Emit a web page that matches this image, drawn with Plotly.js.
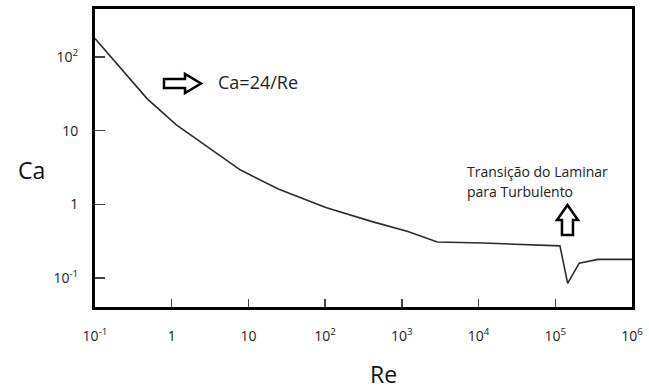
<!DOCTYPE html>
<html>
<head>
<meta charset="utf-8">
<script src="https://cdn.plot.ly/plotly-3.0.1.min.js"></script>
<style>html,body{margin:0;padding:0;background:#fff;}#chart{width:649px;height:391px;}</style>
</head>
<body>
<div id="chart"></div>
<script>
// Reynolds number (x) and drag coefficient Ca (y)
const reynolds = [0.1, 0.48, 1.15, 3.0, 7.8, 24.5, 102, 400, 1200, 2900, 11500, 115000, 145000, 205000, 360000, 1000000];
const dragCoef = [178, 27, 12, 6.0, 2.95, 1.62, 0.91, 0.59, 0.43, 0.31, 0.30, 0.275, 0.085, 0.16, 0.18, 0.18];

const xTickVals = [0.1, 1, 10, 100, 1000, 10000, 100000, 1000000];
const xTickText = ['10<sup>-1</sup>', '1', '10', '10<sup>2</sup>', '10<sup>3</sup>', '10<sup>4</sup>', '10<sup>5</sup>', '10<sup>6</sup>'];
const yTickVals = [0.1, 1, 10, 100];
const yTickText = ['10<sup>-1</sup>', '1', '10', '10<sup>2</sup>'];

const FONT = 'Open Sans, Noto Sans, sans-serif';
const L = 95, R = 632, T = 9, B = 307;
const px = X => (X - L) / (R - L);
const py = Y => (B - Y) / (B - T);
function pathOf(pts) {
  return 'M' + pts.map(p => px(p[0]).toFixed(4) + ',' + py(p[1]).toFixed(4)).join(' L') + ' Z';
}
const rightArrow = [[164,79],[185,79],[185,74],[201,83.5],[185,93],[185,88],[164,88]];
const upArrow = [[567.5,205],[578,220],[573,220],[573,235],[562,235],[562,220],[557,220]];

const trace = {
  x: reynolds, y: dragCoef, type: 'scatter', mode: 'lines',
  line: {color: '#2b2b2b', width: 1.6}, hoverinfo: 'skip', showlegend: false
};

const layout = {
  width: 649, height: 391,
  margin: {l: L, r: 649 - R, t: T, b: 391 - B},
  paper_bgcolor: '#fff', plot_bgcolor: '#fff',
  font: {family: FONT, color: '#222', size: 14},
  xaxis: {
    type: 'log', range: [-1, 6], tickmode: 'array', tickvals: xTickVals, ticktext: xTickText,
    showline: true, mirror: true, linecolor: '#000', linewidth: 3,
    ticks: 'inside', ticklen: 8, tickwidth: 1.5, tickcolor: '#444',
    showgrid: false, zeroline: false, ticklabelstandoff: 14,
    tickfont: {family: FONT, size: 14, color: '#222'}
  },
  yaxis: {
    type: 'log', range: [-1.39, 2.65], tickmode: 'array', tickvals: yTickVals, ticktext: yTickText,
    showline: true, mirror: true, linecolor: '#000', linewidth: 3,
    ticks: 'inside', ticklen: 10, tickwidth: 1.5, tickcolor: '#444',
    showgrid: false, zeroline: false, ticklabelstandoff: 11,
    tickfont: {family: FONT, size: 14, color: '#222'}
  },
  annotations: [
    {text: 'Ca', xref: 'paper', yref: 'paper', x: px(31), y: py(170), xanchor: 'center', yanchor: 'middle', showarrow: false, font: {family: FONT, size: 23, color: '#111'}},
    {text: 'Re', xref: 'paper', yref: 'paper', x: px(383), y: py(374), xanchor: 'center', yanchor: 'middle', showarrow: false, font: {family: FONT, size: 23, color: '#111'}},
    {text: 'Ca=24/Re', xref: 'paper', yref: 'paper', x: px(216), y: py(82), xanchor: 'left', yanchor: 'middle', showarrow: false, font: {family: FONT, size: 18, color: '#222'}},
    {text: 'Transição do Laminar', xref: 'paper', yref: 'paper', x: px(465), y: py(171), xanchor: 'left', yanchor: 'middle', showarrow: false, font: {family: FONT, size: 14, color: '#222'}},
    {text: 'para Turbulento', xref: 'paper', yref: 'paper', x: px(465), y: py(191), xanchor: 'left', yanchor: 'middle', showarrow: false, font: {family: FONT, size: 14, color: '#222'}}
  ],
  shapes: [
    {type: 'path', xref: 'paper', yref: 'paper', path: pathOf(rightArrow), line: {color: '#000', width: 2.5}, fillcolor: 'rgba(0,0,0,0)'},
    {type: 'path', xref: 'paper', yref: 'paper', path: pathOf(upArrow), line: {color: '#000', width: 2.5}, fillcolor: 'rgba(0,0,0,0)'}
  ]
};

Plotly.newPlot('chart', [trace], layout, {displayModeBar: false, staticPlot: true});
</script>
</body>
</html>
